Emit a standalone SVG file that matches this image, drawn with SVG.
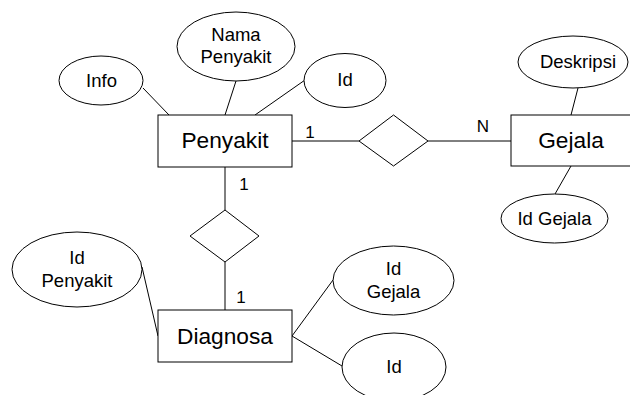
<svg xmlns="http://www.w3.org/2000/svg" width="630" height="395" viewBox="0 0 630 395">
  <style>
    .shape { fill: #ffffff; stroke: #000000; stroke-width: 1; }
    .link { fill: none; stroke: #000000; stroke-width: 1; }
    text { font-family: "Liberation Sans", Arial, sans-serif; fill: #000000; text-anchor: middle; }
    .ent { font-size: 22.7px; }
    .attr { font-size: 18.5px; }
    .card { font-size: 17px; }
  </style>
  <rect width="630" height="395" fill="#ffffff"/>

  <!-- connectors -->
  <g id="connectors">
    <line class="link" x1="143" y1="88" x2="169" y2="115"/>
    <line class="link" x1="236" y1="81" x2="225" y2="115"/>
    <line class="link" x1="305" y1="80" x2="255" y2="115"/>
    <line class="link" x1="292" y1="141" x2="359" y2="141"/>
    <line class="link" x1="428" y1="141" x2="511" y2="141"/>
    <line class="link" x1="578" y1="88" x2="571" y2="115"/>
    <line class="link" x1="571" y1="166" x2="555" y2="194"/>
    <line class="link" x1="225" y1="167" x2="225" y2="210"/>
    <line class="link" x1="225" y1="262" x2="225" y2="310"/>
    <line class="link" x1="142" y1="267" x2="158" y2="336"/>
    <line class="link" x1="292" y1="336" x2="333" y2="280"/>
    <line class="link" x1="292" y1="336" x2="342" y2="366"/>
    <text class="card" x="310" y="138">1</text>
    <text class="card" x="483" y="132">N</text>
    <text class="card" x="244" y="190">1</text>
    <text class="card" x="241" y="303">1</text>
  </g>

  <!-- entities -->
  <g id="penyakit">
    <rect class="shape" x="158" y="115" width="134" height="52"/>
    <text class="ent" x="225" y="148">Penyakit</text>
  </g>
  <g id="gejala">
    <rect class="shape" x="511" y="115" width="130" height="51"/>
    <text class="ent" x="571" y="148">Gejala</text>
  </g>
  <g id="diagnosa">
    <rect class="shape" x="158" y="310" width="134" height="52"/>
    <text class="ent" x="225" y="344">Diagnosa</text>
  </g>

  <!-- relationships -->
  <g id="rel-penyakit-gejala">
    <polygon class="shape" points="359,141 393.5,115 428,141 393.5,166"/>
  </g>
  <g id="rel-penyakit-diagnosa">
    <polygon class="shape" points="190,236 225,210 259,236 225,262"/>
  </g>

  <!-- attributes -->
  <g id="attr-info">
    <ellipse class="shape" cx="101" cy="80.5" rx="42" ry="24.5"/>
    <text class="attr" x="101.5" y="87">Info</text>
  </g>
  <g id="attr-nama-penyakit">
    <ellipse class="shape" cx="236" cy="46.5" rx="59" ry="34.5"/>
    <text class="attr" x="236" y="41">Nama</text>
    <text class="attr" x="236" y="63">Penyakit</text>
  </g>
  <g id="attr-id-penyakit">
    <ellipse class="shape" cx="345" cy="80.5" rx="41" ry="27"/>
    <text class="attr" x="345" y="86">Id</text>
  </g>
  <g id="attr-deskripsi">
    <ellipse class="shape" cx="573" cy="62" rx="55" ry="26"/>
    <text class="attr" x="578" y="68">Deskripsi</text>
  </g>
  <g id="attr-id-gejala">
    <ellipse class="shape" cx="554.5" cy="218.5" rx="53.5" ry="24.5"/>
    <text class="attr" x="554.5" y="225">Id Gejala</text>
  </g>
  <g id="attr-diagnosa-id-penyakit">
    <ellipse class="shape" cx="77" cy="269.5" rx="65" ry="37.5"/>
    <text class="attr" x="77" y="264">Id</text>
    <text class="attr" x="77" y="286.5">Penyakit</text>
  </g>
  <g id="attr-diagnosa-id-gejala">
    <ellipse class="shape" cx="393.5" cy="280.5" rx="60.5" ry="34.5"/>
    <text class="attr" x="393.5" y="275">Id</text>
    <text class="attr" x="393.5" y="298">Gejala</text>
  </g>
  <g id="attr-diagnosa-id">
    <ellipse class="shape" cx="394" cy="367" rx="52" ry="34"/>
    <text class="attr" x="394" y="373">Id</text>
  </g>
</svg>
